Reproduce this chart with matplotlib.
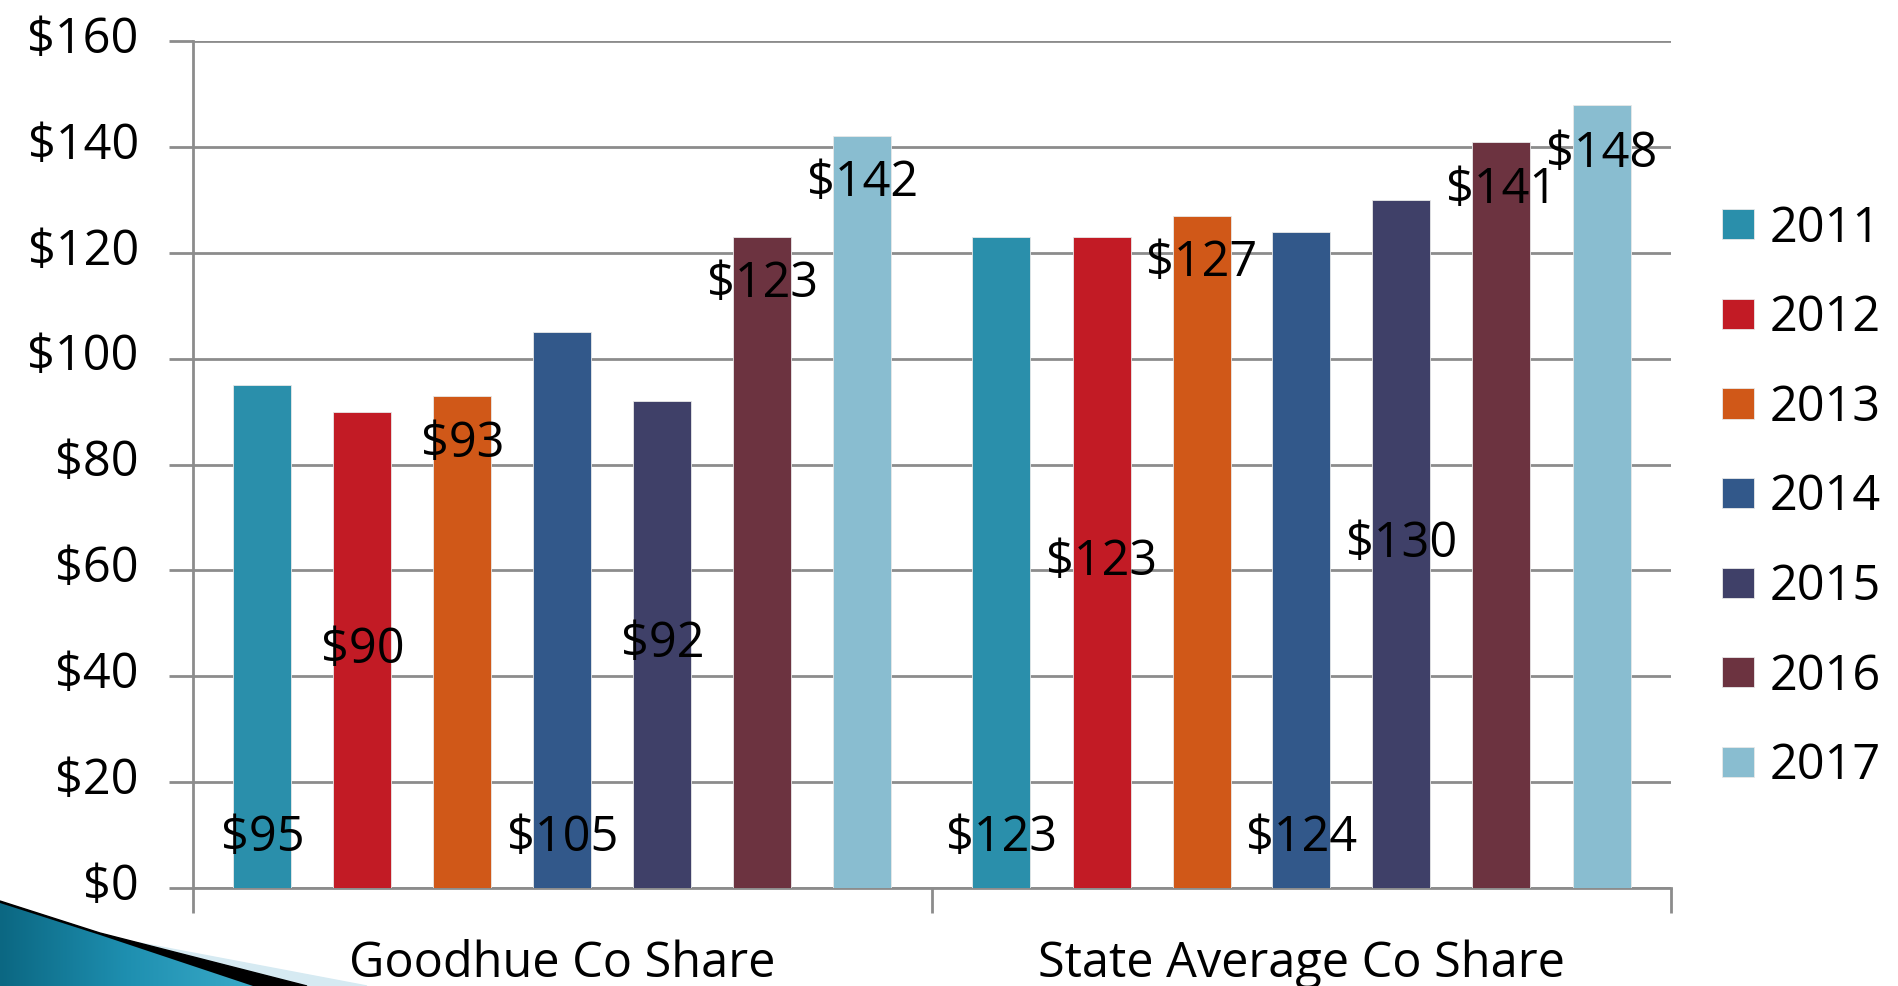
"""Goodhue Co vs state average county share, 2011-2017."""

import numpy as np
import matplotlib

matplotlib.use("Agg")
import matplotlib.pyplot as plt
from matplotlib.patches import Polygon
from matplotlib.transforms import ScaledTranslation

categories = ["Goodhue Co Share", "State Average Co Share"]
years = ["2011", "2012", "2013", "2014", "2015", "2016", "2017"]
goodhue = [95, 90, 93, 105, 92, 123, 142]
state_avg = [123, 123, 127, 124, 130, 141, 148]
y_ticks = [0, 20, 40, 60, 80, 100, 120, 140, 160]

colors = ["#2A8FAB", "#C21B25", "#D05818", "#32588A", "#3F4068", "#6C3340", "#89BDD0"]
# where the value labels sit (data units), as placed in the original deck
label_y = [
    [9.4, 45.0, 83.8, 9.4, 46.1, 114.0, 133.2],
    [9.4, 61.6, 118.1, 9.4, 65.0, 131.8, 138.7],
]

FONT = "Open Sans"
FS = 35
GRID = "#8C8C8C"

fig = plt.figure(figsize=(18.99, 9.86), dpi=100)
ax = fig.add_axes([193 / 1899, 1 - 888 / 986, (1671 - 193) / 1899, (888 - 41) / 986])

pitch = 100 / 739
width = 58 / 739
x = np.arange(len(categories))
series = np.array([goodhue, state_avg]).T
for i, year in enumerate(years):
    pos = x + (i - 3) * pitch
    ax.bar(pos, series[i], width=width, color=colors[i], edgecolor="#E8E8E8",
           linewidth=0.6, label=year, zorder=3)
    for j in range(len(categories)):
        ax.text(pos[j], label_y[j][i], f"${series[i][j]}", ha="center", va="center",
                fontsize=FS, family=FONT, color="black", zorder=5)

ax.set_xlim(-0.5, 1.5)
ax.set_ylim(0, 160)
ax.set_yticks(y_ticks)
ax.set_yticklabels([f"${v}" for v in y_ticks], fontsize=FS, family=FONT)
ax.yaxis.grid(True, color=GRID, linewidth=2, zorder=0)
ax.tick_params(axis="y", length=17, width=2, color=GRID, pad=22)
lift = ScaledTranslation(0, 5 / 72, fig.dpi_scale_trans)
for lab in ax.get_yticklabels():
    lab.set_transform(lab.get_transform() + lift)

ax.set_xticks([-0.5, 0.5, 1.5])
ax.set_xticklabels([])
ax.set_xticks(x, minor=True)
ax.set_xticklabels(categories, minor=True, fontsize=FS, family=FONT)
ax.tick_params(axis="x", which="major", length=18, width=2, color=GRID)
ax.tick_params(axis="x", which="minor", length=0, pad=37)

for side in ["top", "right"]:
    ax.spines[side].set_visible(False)
for side in ["left", "bottom"]:
    ax.spines[side].set_color(GRID)
    ax.spines[side].set_linewidth(2)

ax.legend(loc="upper left", bbox_to_anchor=(1722 / 1899, 1 - 204 / 986),
          bbox_transform=fig.transFigure, frameon=False,
          prop={"family": FONT, "size": FS}, handlelength=0.66, handleheight=0.58,
          handletextpad=0.33, labelspacing=0.825, borderpad=0, borderaxespad=0)

# slide theme swoosh in the bottom-left corner
H = 986.0


def to_fig(pts):
    return [(px / 1899, 1 - py / H) for px, py in pts]


deco = fig.add_axes([0, 0, 1, 1], zorder=-1)
deco.set_xlim(0, 1)
deco.set_ylim(0, 1)
deco.axis("off")
deco.add_patch(Polygon(to_fig([(0, 935), (140, 943), (367, 986), (0, 986)]),
                       closed=True, color="#D6EAF2", zorder=1))
deco.add_patch(Polygon(to_fig([(0, 901), (100, 933), (307, 986), (0, 986)]),
                       closed=True, color="black", zorder=2))
blue = Polygon(to_fig([(0, 903), (100, 935), (253, 986), (0, 986)]),
               closed=True, facecolor="none", edgecolor="none", zorder=3)
deco.add_patch(blue)
grad = np.linspace(0, 1, 256).reshape(1, -1)
cmap = matplotlib.colors.LinearSegmentedColormap.from_list("sw", ["#0B6782", "#1E8FB0", "#3AAAC8"])
img = deco.imshow(grad, extent=(0, 253 / 1899, 0, 1 - 903 / H), cmap=cmap,
                  aspect="auto", zorder=3)
img.set_clip_path(blue)

fig.savefig("out.png", dpi=100)
